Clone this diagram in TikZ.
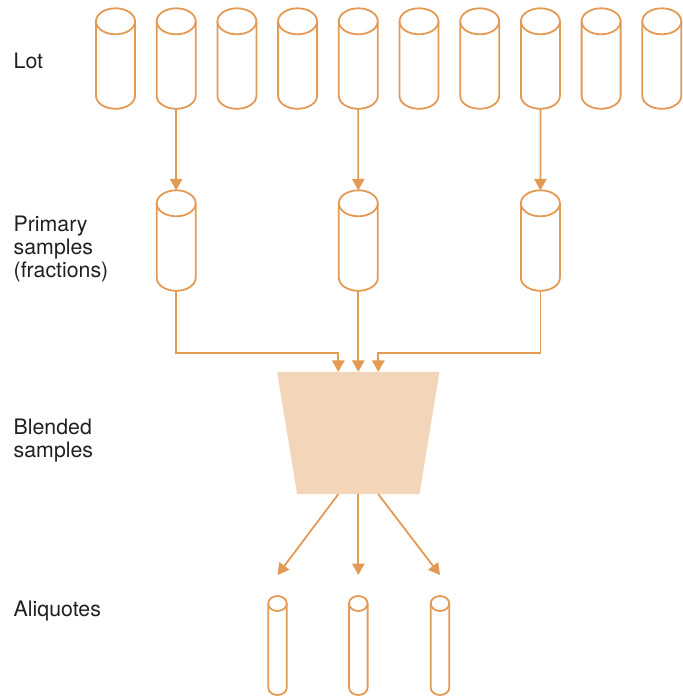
\documentclass[tikz,border=0pt]{standalone}
\usepackage{fontspec}
\setmainfont{TeX Gyre Heros}
\usetikzlibrary{arrows.meta}

\definecolor{sampleorange}{HTML}{E39A55}
\definecolor{blendfill}{HTML}{F3D5BA}
\definecolor{labelgray}{HTML}{231F20}

\tikzset{
    cylline/.style={draw=sampleorange, line width=1.8pt},
    flow/.style={draw=sampleorange, line width=1.8pt, -{Triangle[width=12.5pt,length=11.5pt]}},
    steplabel/.style={anchor=base west, inner sep=0pt, align=left, font=\fontsize{21.3}{23}\selectfont, text=labelgray},
    blendbox/.style={inner sep=0pt, minimum width=162pt, minimum height=122pt},
    % #1 half width, #2 end radius, #3 body height
    pics/cyl/.style n args={3}{code={
        \draw[cylline] (-#1,0) -- (-#1,-#3) arc[start angle=180,end angle=360,x radius=#1,y radius=#2] -- (#1,0);
        \draw[cylline] (0,0) ellipse[x radius=#1,y radius=#2];
        \coordinate (-top) at (0,#2);
        \coordinate (-bot) at (0,-#3-#2);
    }},
}

\begin{document}
\begin{tikzpicture}[x=1pt, y=1pt]
    \useasboundingbox (0,0) rectangle (683,-697);

    % row labels (base is the last line)
    \node[steplabel] (lotlabel) at (13.5,-68.8) {Lot};
    \node[steplabel] (primarylabel) at (13.5,-277.3) {Primary\\samples\\(fractions)};
    \node[steplabel] (blendlabel) at (13.5,-457) {Blended\\samples};
    \node[steplabel] (aliquotlabel) at (13.5,-616.7) {Aliquotes};

    % the lot
    \foreach \i in {1,...,10}
        \pic (l\i) at ({115.5+60.7*(\i-1)},-21.3) {cyl={19.5}{13}{74.5}};

    % primary samples
    \pic (p1) at (176.2,-203.3) {cyl={19.5}{13}{74.5}};
    \pic (p2) at (358.3,-203.3) {cyl={19.5}{13}{74.5}};
    \pic (p3) at (540.4,-203.3) {cyl={19.5}{13}{74.5}};

    % blend, narrowing downwards
    \node[blendbox] (blend) at (358.3,-433) {};
    \fill[blendfill] (blend.north west) -- (blend.north east)
        -- ([xshift=-20pt]blend.south east) -- ([xshift=20pt]blend.south west) -- cycle;

    % aliquotes
    \pic (a1) at (277.5,-603.5) {cyl={9.3}{7.5}{84}};
    \pic (a2) at (358.3,-603.5) {cyl={9.3}{7.5}{84}};
    \pic (a3) at (440,-603.5) {cyl={9.3}{7.5}{84}};

    \draw[flow] (l2-bot) -- (p1-top);
    \draw[flow] (l5-bot) -- (p2-top);
    \draw[flow] (l8-bot) -- (p3-top);

    \draw[flow] (p1-bot) -- ++(0,-62) -| ([xshift=-20pt]blend.north);
    \draw[flow] (p2-bot) -- (blend.north);
    \draw[flow] (p3-bot) -- ++(0,-62) -| ([xshift=20pt]blend.north);

    \draw[flow] ([xshift=-20pt]blend.south) -- ([yshift=21pt]a1-top);
    \draw[flow] (blend.south) -- ([yshift=21pt]a2-top);
    \draw[flow] ([xshift=20pt]blend.south) -- ([yshift=21pt]a3-top);
\end{tikzpicture}
\end{document}
